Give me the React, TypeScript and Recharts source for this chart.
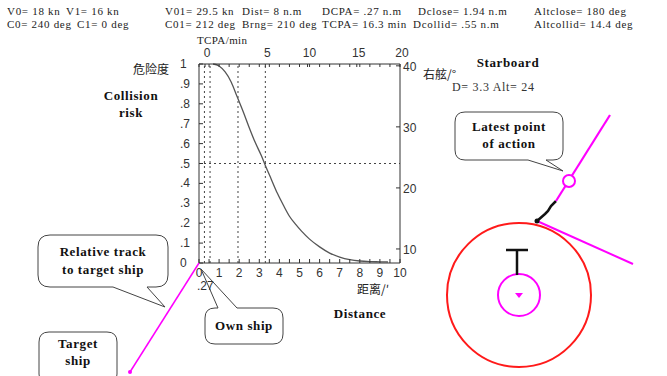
import { ComposedChart, Line, XAxis, YAxis, ReferenceLine } from 'recharts'

// collision risk vs distance (n.m)
const distance = [0.7, 1.0, 1.3, 1.6, 1.9, 2.2, 2.5, 2.8, 3.1, 3.3, 3.6, 3.9, 4.2, 4.5, 4.8, 5.1, 5.5, 6.0, 6.5, 7.0, 7.5, 8.0, 8.5, 9.0, 9.4]
const risk = [1.0, 0.99, 0.96, 0.91, 0.835, 0.76, 0.68, 0.605, 0.54, 0.49, 0.42, 0.35, 0.29, 0.235, 0.195, 0.16, 0.12, 0.081, 0.05, 0.03, 0.017, 0.01, 0.007, 0.006, 0.005]

// dotted markers: DCPA, Dcollid, Dclose, latest action distance
const markerDist = [0.27, 0.55, 1.94, 3.3]
const riskLevel = 0.5

const distTicks = [0, 0.5, 1, 1.5, 2, 2.5, 3, 3.5, 4, 4.5, 5, 5.5, 6, 6.5, 7, 7.5, 8, 8.5, 9, 9.5, 10]
const riskTicks = [0, 0.1, 0.2, 0.3, 0.4, 0.5, 0.6, 0.7, 0.8, 0.9, 1]
const altTicks = [10, 20, 30, 40]
const tcpaLabels = ['0', '5', '10', '15', '20']
const tcpaAtDist = [0.3, 3.3, 5.4, 7.85, 10]
const topTicks = [0, 0.3, 0.5, 1, 1.5, 2, 2.5, 3, 3.3, 3.5, 4, 4.5, 5, 5.4, 5.5, 6, 6.5, 7, 7.5, 7.85, 8, 8.5, 9, 9.5, 10]

const headerRow1 = ['V0= 18 kn', 'V1= 16 kn', 'V01= 29.5 kn', 'Dist= 8 n.m', 'DCPA= .27 n.m', 'Dclose= 1.94 n.m', 'Altclose= 180 deg']
const headerRow2 = ['C0= 240 deg', 'C1= 0 deg', 'C01= 212 deg', 'Brng= 210 deg', 'TCPA= 16.3 min', 'Dcollid= .55 n.m', 'Altcollid= 14.4 deg']

const data = distance.map((d, i) => ({ d, risk: risk[i] }))

const AXIS = '#333'
const MAGENTA = '#ff00ff'
const TICK_FONT = '"Liberation Sans", Arial, sans-serif'
const HEAD_FONT = '"Liberation Serif", serif'
const CJK_FONT = '"Noto Sans CJK SC", sans-serif'

const BottomTick = ({ x, y, payload }: any) => {
  const v = payload.value
  const major = Number.isInteger(v)
  return (
    <g>
      <line x1={x} x2={x} y1={y} y2={y - 4} stroke={AXIS} />
      {major && (
        <text x={x} y={y + 14} textAnchor="middle" fontSize={12} fill="#333" fontFamily={TICK_FONT}>{v}</text>
      )}
    </g>
  )
}

const TopTick = ({ x, y, payload }: any) => {
  const idx = tcpaAtDist.indexOf(payload.value)
  return (
    <g>
      <line x1={x} x2={x} y1={y} y2={y + 3} stroke={AXIS} />
      {idx >= 0 && (
        <text x={x + 2} y={y - 7} textAnchor="middle" fontSize={12} fill="#333" fontFamily={TICK_FONT}>{tcpaLabels[idx]}</text>
      )}
    </g>
  )
}

const LeftTick = ({ x, y, payload }: any) => {
  const v = payload.value
  const label = v === 0 ? '0' : v === 1 ? '1' : '.' + Math.round(v * 10)
  return (
    <g>
      <line x1={x} x2={x + 4} y1={y} y2={y} stroke={AXIS} />
      <text x={180} y={y + 4} textAnchor="start" fontSize={12} fill="#333" fontFamily={TICK_FONT}>{label}</text>
    </g>
  )
}

const RightTick = ({ x, y, payload }: any) => (
  <g>
    <line x1={x - 4} x2={x} y1={y} y2={y} stroke={AXIS} />
    <text x={x + 3} y={y + 5} textAnchor="start" fontSize={12} fill="#333" fontFamily={TICK_FONT}>{payload.value}</text>
  </g>
)

// speech bubble with a tail on the top or bottom edge
function bubble(x: number, y: number, w: number, h: number, r: number, side: 'top' | 'bottom', a: number, b: number, tx: number, ty: number) {
  if (side === 'bottom') {
    return `M${x + r},${y} H${x + w - r} Q${x + w},${y} ${x + w},${y + r} V${y + h - r} Q${x + w},${y + h} ${x + w - r},${y + h} H${b} L${tx},${ty} L${a},${y + h} H${x + r} Q${x},${y + h} ${x},${y + h - r} V${y + r} Q${x},${y} ${x + r},${y} Z`
  }
  return `M${x + r},${y} H${a} L${tx},${ty} L${b},${y} H${x + w - r} Q${x + w},${y} ${x + w},${y + r} V${y + h - r} Q${x + w},${y + h} ${x + w - r},${y + h} H${x + r} Q${x},${y + h} ${x},${y + h - r} V${y + r} Q${x},${y} ${x + r},${y} Z`
}

const boldText = { fontFamily: HEAD_FONT, fontWeight: 700, fontSize: 13, letterSpacing: 0.6, fill: '#111' } as const
const headText = { fontFamily: HEAD_FONT, fontSize: 11, letterSpacing: 0.7, fill: '#222' } as const

// header column starts
const head1X = [7, 66, 165, 242, 322, 418, 534]
const head2X = [7, 77, 165, 242, 322, 413, 534]

function Overlay() {
  return (
    <svg width={667} height={376} style={{ position: 'absolute', left: 0, top: 0, pointerEvents: 'none' }}>
      {headerRow1.map((t, i) => (
        <text key={'h1' + i} x={head1X[i]} y={15} {...headText}>{t}</text>
      ))}
      {headerRow2.map((t, i) => (
        <text key={'h2' + i} x={head2X[i]} y={28} {...headText}>{t}</text>
      ))}
      <text x={197} y={44} {...headText} letterSpacing={0.4}>TCPA/min</text>
      <text x={133} y={74} fontSize={12} fontFamily={CJK_FONT} fill="#222">危险度</text>
      <text x={423} y={79} fontSize={12} fontFamily={CJK_FONT} fill="#222">右舷/°</text>
      <text x={357} y={294} fontSize={12} fontFamily={CJK_FONT} fill="#222">距离/′</text>

      <text x={131} y={100} textAnchor="middle" {...boldText}>Collision</text>
      <text x={131} y={117} textAnchor="middle" {...boldText}>risk</text>
      <text x={360} y={318} textAnchor="middle" {...boldText}>Distance</text>
      <text x={508} y={67} textAnchor="middle" {...boldText}>Starboard</text>
      <text x={452} y={91} {...headText} fontSize={12} fill="#333">D= 3.3 Alt= 24</text>

      {/* relative track from own ship */}
      <line x1={199} y1={263} x2={130} y2={372} stroke={MAGENTA} strokeWidth={1.5} />
      <circle cx={130} cy={372} r={2} fill={MAGENTA} />

      {/* bubbles */}
      <path d={bubble(455, 112, 108, 48, 10, 'bottom', 528, 546, 563, 171)} fill="#fff" stroke="#444" />
      <text x={509} y={131} textAnchor="middle" {...boldText}>Latest point</text>
      <text x={509} y={148} textAnchor="middle" {...boldText}>of action</text>

      <path d={bubble(38, 235, 130, 52, 12, 'bottom', 113, 147, 165, 307)} fill="#fff" stroke="#444" />
      <text x={103} y={256} textAnchor="middle" {...boldText}>Relative track</text>
      <text x={103} y={274} textAnchor="middle" {...boldText}>to target ship</text>

      <path d={bubble(205, 308, 78, 36, 10, 'top', 218, 237, 201, 269)} fill="#fff" stroke="#444" />
      <text x={244} y={330} textAnchor="middle" {...boldText}>Own ship</text>
      <text x={197} y={290} fontSize={12} fontFamily={TICK_FONT} fill="#333">.27</text>

      <path d={bubble(39, 332, 78, 52, 10, 'bottom', 60, 80, 70, 400)} fill="#fff" stroke="#444" />
      <text x={78} y={348} textAnchor="middle" {...boldText}>Target</text>
      <text x={78} y={365} textAnchor="middle" {...boldText}>ship</text>

      {/* encounter sketch */}
      <circle cx={519} cy={295} r={72} fill="none" stroke="#ff1a1a" strokeWidth={2} />
      <circle cx={519} cy={295} r={21} fill="none" stroke={MAGENTA} strokeWidth={2} />
      <path d="M515,293 L523,293 L519,298 Z" fill={MAGENTA} />
      <line x1={517} y1={250} x2={517} y2={275} stroke="#111" strokeWidth={2.5} />
      <line x1={506} y1={250} x2={528} y2={250} stroke="#111" strokeWidth={2.5} />
      <line x1={537} y1={221} x2={633} y2={264} stroke={MAGENTA} strokeWidth={2} />
      <polyline points="537,221 545,214 548,211 551,206 556,201" fill="none" stroke="#111" strokeWidth={2.5} />
      <circle cx={537} cy={221} r={2.5} fill="#111" />
      <line x1={556} y1={201} x2={610} y2={115} stroke={MAGENTA} strokeWidth={2.2} />
      <circle cx={569} cy={181} r={6} fill="#fff" stroke={MAGENTA} strokeWidth={2} />
    </svg>
  )
}

export default function App() {
  return (
    <div style={{ position: 'absolute', left: 0, top: 0, width: 667, height: 376, background: '#fff' }}>
      <ComposedChart width={667} height={376} data={data} margin={{ top: 34, right: 237, bottom: 83, left: 169 }}>
        <XAxis xAxisId="dist" dataKey="d" type="number" domain={[0, 10]} ticks={distTicks} interval={0}
          height={30} tickSize={0} tickMargin={0} tick={<BottomTick />} stroke={AXIS} allowDataOverflow />
        <XAxis xAxisId="top" dataKey="d" orientation="top" type="number" domain={[0, 10]} ticks={topTicks}
          interval={0} height={30} tickSize={0} tickMargin={0} tick={<TopTick />} stroke={AXIS} allowDataOverflow />
        <YAxis yAxisId="risk" type="number" domain={[0, 1]} ticks={riskTicks} interval={0}
          width={30} tickSize={0} tickMargin={0} tick={<LeftTick />} stroke={AXIS} />
        <YAxis yAxisId="alt" orientation="right" type="number" domain={[7.7, 40.3]} ticks={altTicks} interval={0}
          width={30} tickSize={0} tickMargin={0} tick={<RightTick />} stroke={AXIS} allowDataOverflow />
        {markerDist.map((m) => (
          <ReferenceLine key={m} xAxisId="dist" yAxisId="risk" x={m} stroke="#444" strokeDasharray="2 3" />
        ))}
        <ReferenceLine xAxisId="dist" yAxisId="risk" y={riskLevel} stroke="#444" strokeDasharray="2 3" />
        <Line xAxisId="dist" yAxisId="risk" dataKey="risk" type="monotone" stroke="#555" strokeWidth={1.3}
          dot={false} isAnimationActive={false} />
      </ComposedChart>
      <Overlay />
    </div>
  )
}
